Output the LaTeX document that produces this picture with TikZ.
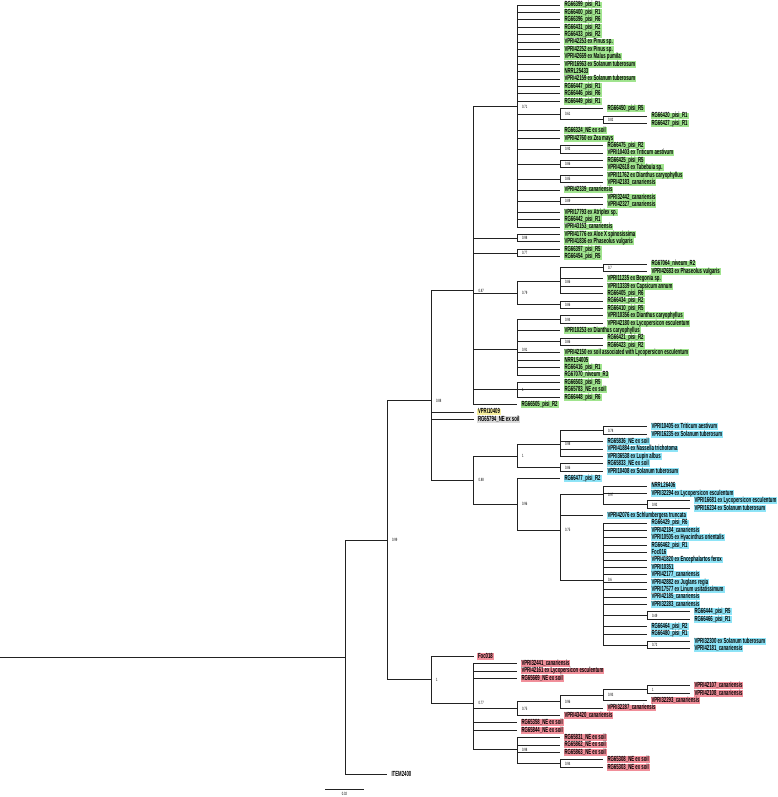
\documentclass[tikz,border=0pt]{standalone}
\usepackage{fontspec}
\usepackage{tikz}
\newfontfamily\treefont[FakeStretch=0.58]{Liberation Sans}
\definecolor{CA0E48E}{HTML}{A0E48E}
\definecolor{C8EE4F7}{HTML}{8EE4F7}
\definecolor{CF18F9A}{HTML}{F18F9A}
\definecolor{CF8F0A0}{HTML}{F8F0A0}
\definecolor{CDADADA}{HTML}{DADADA}
\definecolor{C222222}{HTML}{222222}

\begin{document}
\begin{tikzpicture}[x=1pt,y=-1pt,inner sep=0pt,
  br/.style={draw=C222222,line width=0.75pt},
  leaf/.style={anchor=west,outer xsep=3.5pt,outer ysep=0pt,inner xsep=1pt,text height=5.3pt,text depth=1.4pt,font=\treefont\bfseries\fontsize{7.4}{8}\selectfont},
  leafG/.style={leaf,fill=CA0E48E},
  leafB/.style={leaf,fill=C8EE4F7},
  leafR/.style={leaf,fill=CF18F9A},
  leafY/.style={leaf,fill=CF8F0A0},
  leafK/.style={leaf,fill=CDADADA},
  bs/.style={anchor=west,font=\treefont\fontsize{4.6}{5}\selectfont}]
\useasboundingbox (0,0) rectangle (778,797);

% inner nodes
\coordinate (r0) at (0,657.4);
\coordinate (n0) at (345,657.4);
\coordinate (n1) at (387,540.2);
\coordinate (n2) at (431,400.6);
\coordinate (n3) at (473.5,290.7);
\coordinate (n4) at (517,106.75);
\coordinate (n5) at (560,114.15);
\coordinate (n6) at (603,119.7);
\coordinate (n7) at (560,149.3);
\coordinate (n8) at (560,164.1);
\coordinate (n9) at (560,178.9);
\coordinate (n10) at (560,201.1);
\coordinate (n11) at (517,238.1);
\coordinate (n12) at (517,252.9);
\coordinate (n13) at (517,293.1);
\coordinate (n14) at (560,281.6);
\coordinate (n15) at (603,267.7);
\coordinate (n16) at (560,304.7);
\coordinate (n17) at (517,349.6);
\coordinate (n18) at (560,319.5);
\coordinate (n19) at (560,341.7);
\coordinate (n20) at (517,389.8);
\coordinate (n21) at (473.5,480.2);
\coordinate (n22) at (517,455.9);
\coordinate (n23) at (560,444.4);
\coordinate (n24) at (603,430.5);
\coordinate (n25) at (560,467.5);
\coordinate (n26) at (517,504.4);
\coordinate (n27) at (560,530.2);
\coordinate (n28) at (603,494.6);
\coordinate (n29) at (647,504.5);
\coordinate (n30) at (603,580.4);
\coordinate (n31) at (647,615.5);
\coordinate (n32) at (647,645.1);
\coordinate (n33) at (431,679.8);
\coordinate (n34) at (473.5,703.4);
\coordinate (n35) at (517,708.5);
\coordinate (n36) at (560,701.5);
\coordinate (n37) at (603,695.1);
\coordinate (n38) at (647,689.5);
\coordinate (n39) at (517,749.6);
\coordinate (n40) at (560,763.5);

% leaves
\node (l1) [leafG, at={(560,5.0)}] {RG66399\_pisi\_R1};
\node (l2) [leafG, at={(560,12.4)}] {RG66400\_pisi\_R1};
\node (l3) [leafG, at={(560,19.8)}] {RG66396\_pisi\_R6};
\node (l4) [leafG, at={(560,27.2)}] {RG66431\_pisi\_R2};
\node (l5) [leafG, at={(560,34.6)}] {RG66433\_pisi\_R2};
\node (l6) [leafG, at={(560,42.0)}] {VPRI42253 ex Pinus sp.};
\node (l7) [leafG, at={(560,49.4)}] {VPRI42252 ex Pinus sp.};
\node (l8) [leafG, at={(560,56.8)}] {VPRI42669 ex Malus pumila};
\node (l9) [leafG, at={(560,64.2)}] {VPRI16963 ex Solanum tuberosum};
\node (l10) [leafG, at={(560,71.6)}] {NRRL25433};
\node (l11) [leafG, at={(560,79.0)}] {VPRI42159 ex Solanum tuberosum};
\node (l12) [leafG, at={(560,86.4)}] {RG66447\_pisi\_R1};
\node (l13) [leafG, at={(560,93.8)}] {RG66446\_pisi\_R6};
\node (l14) [leafG, at={(560,101.2)}] {RG66449\_pisi\_R1};
\node (l15) [leafG, at={(603,108.6)}] {RG66450\_pisi\_R5};
\node (l16) [leafG, at={(647,116.0)}] {RG66420\_pisi\_R1};
\node (l17) [leafG, at={(647,123.4)}] {RG66427\_pisi\_R1};
\node (l18) [leafG, at={(560,130.8)}] {RG66324\_NE ex soil};
\node (l19) [leafG, at={(560,138.2)}] {VPRI42760 ex Zea mays};
\node (l20) [leafG, at={(603,145.6)}] {RG66475\_pisi\_R2};
\node (l21) [leafG, at={(603,153.0)}] {VPRI10403 ex Triticum aestivum};
\node (l22) [leafG, at={(603,160.4)}] {RG66425\_pisi\_R5};
\node (l23) [leafG, at={(603,167.8)}] {VPRI42618 ex Tabebuia sp.};
\node (l24) [leafG, at={(603,175.2)}] {VPRI11762 ex Dianthus caryophyllus};
\node (l25) [leafG, at={(603,182.6)}] {VPRI42183\_canariensis};
\node (l26) [leafG, at={(560,190.0)}] {VPRI42339\_canariensis};
\node (l27) [leafG, at={(603,197.4)}] {VPRI32442\_canariensis};
\node (l28) [leafG, at={(603,204.8)}] {VPRI42327\_canariensis};
\node (l29) [leafG, at={(560,212.2)}] {VPRI17793 ex Atriplex sp.};
\node (l30) [leafG, at={(560,219.6)}] {RG66442\_pisi\_R1};
\node (l31) [leafG, at={(560,227.0)}] {VPRI43153\_canariensis};
\node (l32) [leafG, at={(560,234.4)}] {VPRI41776 ex Aloe X spinosissima};
\node (l33) [leafG, at={(560,241.8)}] {VPRI41836 ex Phaseolus vulgaris};
\node (l34) [leafG, at={(560,249.2)}] {RG66397\_pisi\_R5};
\node (l35) [leafG, at={(560,256.6)}] {RG66454\_pisi\_R5};
\node (l36) [leafG, at={(647,264.0)}] {RG67064\_niveum\_R2};
\node (l37) [leafG, at={(647,271.4)}] {VPRI42683 ex Phaseolus vulgaris};
\node (l38) [leafG, at={(603,278.8)}] {VPRI11235 ex Begonia sp.};
\node (l39) [leafG, at={(603,286.2)}] {VPRI13339 ex Capsicum annum};
\node (l40) [leafG, at={(603,293.6)}] {RG66405\_pisi\_R6};
\node (l41) [leafG, at={(603,301.0)}] {RG66434\_pisi\_R2};
\node (l42) [leafG, at={(603,308.4)}] {RG66410\_pisi\_R5};
\node (l43) [leafG, at={(603,315.8)}] {VPRI10356 ex Dianthus caryophyllus};
\node (l44) [leafG, at={(603,323.2)}] {VPRI42180 ex Lycopersicon esculentum};
\node (l45) [leafG, at={(560,330.6)}] {VPRI10253 ex Dianthus caryophyllus};
\node (l46) [leafG, at={(603,338.0)}] {RG66421\_pisi\_R2};
\node (l47) [leafG, at={(603,345.4)}] {RG66423\_pisi\_R2};
\node (l48) [leafG, at={(560,352.8)}] {VPRI42150 ex soil associated with Lycopersicon esculentum};
\node (l49) [leafG, at={(560,360.2)}] {NRRL54005};
\node (l50) [leafG, at={(560,367.6)}] {RG66416\_pisi\_R1};
\node (l51) [leafG, at={(560,375.0)}] {RG67070\_niveum\_R3};
\node (l52) [leafG, at={(560,382.4)}] {RG66503\_pisi\_R5};
\node (l53) [leafG, at={(560,389.8)}] {RG65783\_NE ex soil};
\node (l54) [leafG, at={(560,397.2)}] {RG66448\_pisi\_R6};
\node (l55) [leafG, at={(517,404.6)}] {RG66505\_pisi\_R2};
\node (l56) [leafY, at={(473.5,412.0)}] {VPRI10409};
\node (l57) [leafK, at={(473.5,419.4)}] {RG65794\_NE ex soil};
\node (l58) [leafB, at={(647,426.8)}] {VPRI10405 ex Triticum aestivum};
\node (l59) [leafB, at={(647,434.2)}] {VPRI16235 ex Solanum tuberosum};
\node (l60) [leafB, at={(603,441.6)}] {RG65836\_NE ex soil};
\node (l61) [leafB, at={(603,449.0)}] {VPRI41884 ex Nassella trichotoma};
\node (l62) [leafB, at={(603,456.4)}] {VPRI36538 ex Lupin albus};
\node (l63) [leafB, at={(603,463.8)}] {RG65833\_NE ex soil};
\node (l64) [leafB, at={(603,471.2)}] {VPRI10408 ex Solanum tuberosum};
\node (l65) [leafB, at={(560,478.6)}] {RG66477\_pisi\_R2};
\node (l66) [leafB, at={(647,486.0)}] {NRRL26406};
\node (l67) [leafB, at={(647,493.4)}] {VPRI32294 ex Lycopersicon esculentum};
\node (l68) [leafB, at={(690,500.8)}] {VPRI16681 ex Lycopersicon esculentum};
\node (l69) [leafB, at={(690,508.2)}] {VPRI16234 ex Solanum tuberosum};
\node (l70) [leafB, at={(603,515.6)}] {VPRI42076 ex Schlumbergera truncata};
\node (l71) [leafB, at={(647,523.0)}] {RG66429\_pisi\_R6};
\node (l72) [leafB, at={(647,530.4)}] {VPRI42184\_canariensis};
\node (l73) [leafB, at={(647,537.8)}] {VPRI10505 ex Hyacinthus orientalis};
\node (l74) [leafB, at={(647,545.2)}] {RG66462\_pisi\_R1};
\node (l75) [leafB, at={(647,552.6)}] {Foc016};
\node (l76) [leafB, at={(647,560.0)}] {VPRI41820 ex Encephalartos ferox};
\node (l77) [leafB, at={(647,567.4)}] {VPRI10351};
\node (l78) [leafB, at={(647,574.8)}] {VPRI42177\_canariensis};
\node (l79) [leafB, at={(647,582.2)}] {VPRI42882 ex Juglans regia};
\node (l80) [leafB, at={(647,589.6)}] {VPRI17577 ex Linum usitatissimum};
\node (l81) [leafB, at={(647,597.0)}] {VPRI42185\_canariensis};
\node (l82) [leafB, at={(647,604.4)}] {VPRI32283\_canariensis};
\node (l83) [leafB, at={(690,611.8)}] {RG66444\_pisi\_R5};
\node (l84) [leafB, at={(690,619.2)}] {RG66466\_pisi\_R1};
\node (l85) [leafB, at={(647,626.6)}] {RG66464\_pisi\_R2};
\node (l86) [leafB, at={(647,634.0)}] {RG66480\_pisi\_R1};
\node (l87) [leafB, at={(690,641.4)}] {VPRI32300 ex Solanum tuberosum};
\node (l88) [leafB, at={(690,648.8)}] {VPRI42181\_canariensis};
\node (l89) [leafR, at={(473.5,656.2)}] {Foc018};
\node (l90) [leafR, at={(517,663.6)}] {VPRI32441\_canariensis};
\node (l91) [leafR, at={(517,671.0)}] {VPRI42161 ex Lycopersicon esculentum};
\node (l92) [leafR, at={(517,678.4)}] {RG65669\_NE ex soil};
\node (l93) [leafR, at={(690,685.8)}] {VPRI42107\_canariensis};
\node (l94) [leafR, at={(690,693.2)}] {VPRI42108\_canariensis};
\node (l95) [leafR, at={(647,700.6)}] {VPRI32293\_canariensis};
\node (l96) [leafR, at={(603,708.0)}] {VPRI32287\_canariensis};
\node (l97) [leafR, at={(560,715.4)}] {VPRI43420\_canariensis};
\node (l98) [leafR, at={(517,722.8)}] {RG65358\_NE ex soil};
\node (l99) [leafR, at={(517,730.2)}] {RG65844\_NE ex soil};
\node (l100) [leafR, at={(560,737.6)}] {RG65831\_NE ex soil};
\node (l101) [leafR, at={(560,745.0)}] {RG65862\_NE ex soil};
\node (l102) [leafR, at={(560,752.4)}] {RG65863\_NE ex soil};
\node (l103) [leafR, at={(603,759.8)}] {RG65308\_NE ex soil};
\node (l104) [leafR, at={(603,767.2)}] {RG65303\_NE ex soil};
\node (l105) [leaf, at={(387,774.6)}] {ITEM2400};

% branches
\path [br] (r0)--(n0);
\path [br] (n0)|-(n1) (n0)|-(l105);
\path [br] (n1)|-(n2) (n1)|-(n33);
\path [br] (n2)|-(n3) (n2)|-(l56) (n2)|-(l57) (n2)|-(n21);
\path [br] (n3)|-(n4) (n3)|-(n11) (n3)|-(n12) (n3)|-(n13) (n3)|-(n17) (n3)|-(n20) (n3)|-(l55);
\path [br] (n4)|-(l1) (n4)|-(l2) (n4)|-(l3) (n4)|-(l4) (n4)|-(l5) (n4)|-(l6) (n4)|-(l7) (n4)|-(l8) (n4)|-(l9) (n4)|-(l10) (n4)|-(l11) (n4)|-(l12) (n4)|-(l13) (n4)|-(l14);
\path [br] (n4)|-(n5) (n4)|-(l18) (n4)|-(l19) (n4)|-(n7) (n4)|-(n8) (n4)|-(n9) (n4)|-(l26) (n4)|-(n10) (n4)|-(l29) (n4)|-(l30) (n4)|-(l31);
\path [br] (n5)|-(l15) (n5)|-(n6) (n6)|-(l16) (n6)|-(l17);
\path [br] (n7)|-(l20) (n7)|-(l21) (n8)|-(l22) (n8)|-(l23) (n9)|-(l24) (n9)|-(l25) (n10)|-(l27) (n10)|-(l28);
\path [br] (n11)|-(l32) (n11)|-(l33) (n12)|-(l34) (n12)|-(l35);
\path [br] (n13)|-(n14) (n13)|-(n16) (n14)|-(n15) (n14)|-(l38) (n14)|-(l39) (n14)|-(l40);
\path [br] (n15)|-(l36) (n15)|-(l37) (n16)|-(l41) (n16)|-(l42);
\path [br] (n17)|-(n18) (n17)|-(l45) (n17)|-(n19) (n17)|-(l48) (n17)|-(l49) (n17)|-(l50) (n17)|-(l51);
\path [br] (n18)|-(l43) (n18)|-(l44) (n19)|-(l46) (n19)|-(l47);
\path [br] (n20)|-(l52) (n20)|-(l53) (n20)|-(l54);
\path [br] (n21)|-(n22) (n21)|-(n26) (n22)|-(n23) (n22)|-(n25);
\path [br] (n23)|-(n24) (n23)|-(l60) (n23)|-(l61) (n23)|-(l62) (n24)|-(l58) (n24)|-(l59);
\path [br] (n25)|-(l63) (n25)|-(l64);
\path [br] (n26)|-(l65) (n26)|-(n27) (n27)|-(n28) (n27)|-(l70) (n27)|-(n30);
\path [br] (n28)|-(l66) (n28)|-(l67) (n28)|-(n29) (n29)|-(l68) (n29)|-(l69);
\path [br] (n30)|-(l71) (n30)|-(l72) (n30)|-(l73) (n30)|-(l74) (n30)|-(l75) (n30)|-(l76) (n30)|-(l77) (n30)|-(l78) (n30)|-(l79) (n30)|-(l80) (n30)|-(l81) (n30)|-(l82);
\path [br] (n30)|-(n31) (n30)|-(l85) (n30)|-(l86) (n30)|-(n32);
\path [br] (n31)|-(l83) (n31)|-(l84) (n32)|-(l87) (n32)|-(l88);
\path [br] (n33)|-(l89) (n33)|-(n34);
\path [br] (n34)|-(l90) (n34)|-(l91) (n34)|-(l92) (n34)|-(n35) (n34)|-(l98) (n34)|-(l99) (n34)|-(n39);
\path [br] (n35)|-(n36) (n35)|-(l97) (n36)|-(n37) (n36)|-(l96) (n37)|-(n38) (n37)|-(l95) (n38)|-(l93) (n38)|-(l94);
\path [br] (n39)|-(l100) (n39)|-(l101) (n39)|-(l102) (n39)|-(n40) (n40)|-(l103) (n40)|-(l104);

% support values
\path (n1) ++(5,0) node (b1) [bs] {0.99};
\path (n2) ++(5,0) node (b2) [bs] {0.88};
\path (n3) ++(5,0) node (b3) [bs] {0.87};
\path (n4) ++(5,0) node (b4) [bs] {0.71};
\path (n5) ++(5,0) node (b5) [bs] {0.61};
\path (n6) ++(5,0) node (b6) [bs] {0.82};
\path (n7) ++(5,0) node (b7) [bs] {0.92};
\path (n8) ++(5,0) node (b8) [bs] {0.86};
\path (n9) ++(5,0) node (b9) [bs] {0.85};
\path (n10) ++(5,0) node (b10) [bs] {0.89};
\path (n11) ++(5,0) node (b11) [bs] {0.98};
\path (n12) ++(5,0) node (b12) [bs] {0.77};
\path (n13) ++(5,0) node (b13) [bs] {0.79};
\path (n14) ++(5,0) node (b14) [bs] {0.86};
\path (n15) ++(5,0) node (b15) [bs] {0.7};
\path (n16) ++(5,0) node (b16) [bs] {0.86};
\path (n17) ++(5,0) node (b17) [bs] {0.91};
\path (n18) ++(5,0) node (b18) [bs] {0.94};
\path (n19) ++(5,0) node (b19) [bs] {0.86};
\path (n20) ++(5,0) node (b20) [bs] {1};
\path (n21) ++(5,0) node (b21) [bs] {0.88};
\path (n22) ++(5,0) node (b22) [bs] {1};
\path (n23) ++(5,0) node (b23) [bs] {0.98};
\path (n24) ++(5,0) node (b24) [bs] {0.78};
\path (n25) ++(5,0) node (b25) [bs] {0.86};
\path (n26) ++(5,0) node (b26) [bs] {0.96};
\path (n27) ++(5,0) node (b27) [bs] {0.75};
\path (n28) ++(5,0) node (b28) [bs] {0.97};
\path (n29) ++(5,0) node (b29) [bs] {0.92};
\path (n30) ++(5,0) node (b30) [bs] {0.6};
\path (n31) ++(5,0) node (b31) [bs] {0.49};
\path (n32) ++(5,0) node (b32) [bs] {0.72};
\path (n33) ++(5,0) node (b33) [bs] {1};
\path (n34) ++(5,0) node (b34) [bs] {0.77};
\path (n35) ++(5,0) node (b35) [bs] {0.75};
\path (n36) ++(5,0) node (b36) [bs] {0.96};
\path (n37) ++(5,0) node (b37) [bs] {0.93};
\path (n38) ++(5,0) node (b38) [bs] {1};
\path (n39) ++(5,0) node (b39) [bs] {0.98};
\path (n40) ++(5,0) node (b40) [bs] {0.94};

% scale bar
\coordinate (s0) at (325,789);
\coordinate (s1) at (364,789);
\path [br] (s0)--(s1);
\path (s0) ++(19.5,5) node (sl) [bs,anchor=center] {0.02};
\end{tikzpicture}
\end{document}
